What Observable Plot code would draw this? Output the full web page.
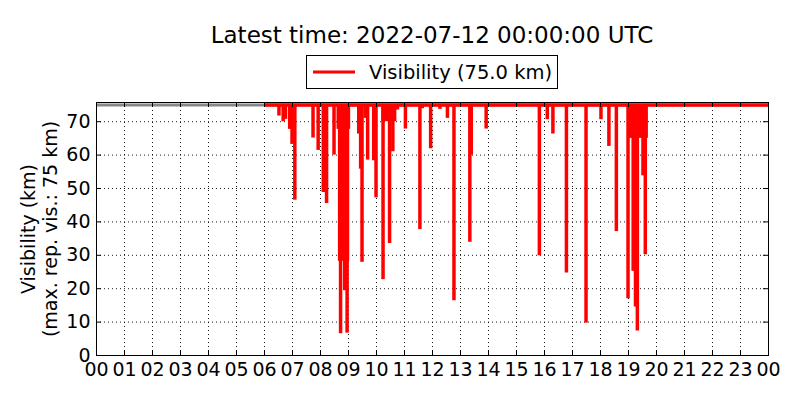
<!DOCTYPE html>
<html>
<head>
<meta charset="utf-8">
<script src="https://cdn.jsdelivr.net/npm/d3@7"></script>
<script src="https://cdn.jsdelivr.net/npm/@observablehq/plot@0.6"></script>
<style>
  body { margin: 0; background: white; font-family: "DejaVu Sans", sans-serif; }
  #wrap { width: 800px; }
  #head { position: relative; height: 92px; }
  #title { position: absolute; left: 96px; width: 672px; top: 21px; text-align: center;
           font-size: 23px; line-height: 28px; color: black; }
  #legend { position: absolute; left: 306px; top: 55px; width: 250px; height: 32px;
            border: 1px solid black; display: flex; align-items: center; font-size: 19.5px; }
  #legend svg { margin-left: 6px; margin-right: 14px; }
</style>
</head>
<body>
<div id="wrap">
  <div id="head">
    <div id="title">Latest time: 2022-07-12 00:00:00 UTC</div>
    <div id="legend"><svg width="42" height="6"><line x1="0" x2="42" y1="3" y2="3" stroke="red" stroke-width="3"/></svg><span>Visibility (75.0 km)</span></div>
  </div>
  <div id="chart"></div>
</div>
<script>
// Observation day (UTC) and the reported maximum visibility.
const day = "2022-07-11";
const maxVis = 75;
const seriesStart = "06:00";

// Single-reading drops in visibility (km).
const spikeTimes = [
  "06:31", "06:40", "06:45", "06:54", "06:59", "07:05", "07:44", "07:55",
  "08:06", "08:13", "08:29", "08:43", "08:52", "08:57", "09:22", "09:26",
  "09:29", "09:36", "09:41", "09:54", "09:59", "10:14", "10:28", "10:35",
  "10:45", "11:02", "11:33", "11:38", "11:56", "12:16", "12:32", "12:46",
  "13:20", "13:23", "13:55", "15:49", "16:06", "16:18", "16:47", "17:29",
  "18:01", "18:18", "18:34", "18:59", "19:10", "19:15", "19:19", "19:31",
  "19:36"
];
const spikeValues = [
  71.7, 70.0, 70.7, 67.7, 63.2, 46.5, 65.1, 61.4,
  48.8, 45.5, 60.0, 6.5, 19.4, 6.7, 66.3, 55.8,
  27.9, 71.0, 58.5, 58.3, 47.2, 22.7, 33.5, 61.0,
  73.5, 67.8, 37.7, 73.9, 61.9, 73.7, 71.0, 16.4,
  33.9, 60.0, 67.8, 29.9, 70.6, 66.3, 24.7, 9.7,
  70.6, 62.6, 37.1, 17.0, 25.2, 14.5, 7.3, 53.8,
  30.2
];

// Stretches of rapidly fluctuating readings that fill in solid.
const blockStarts = ["08:39", "08:42", "10:15", "19:04"];
const blockEnds   = ["09:01", "08:59", "10:40", "19:39"];
const blockValues = [68.0, 28.5, 70.3, 65.3];

const toDate = t => new Date(`${day}T${t}:00Z`);
const dayStart = toDate("00:00");
const dayEnd = new Date(+dayStart + 24 * 3600e3);

const spikes = spikeTimes.map((t, i) => ({time: toDate(t), value: spikeValues[i]}));
const blocks = blockStarts.map((t, i) => ({start: toDate(t), end: toDate(blockEnds[i]), value: blockValues[i]}));
const hourTicks = d3.utcHour.range(dayStart, new Date(+dayEnd + 1));
const visTicks = d3.range(0, 71, 10);

const W = 800, H = 308, mL = 96, mR = 32, mT = 10, mB = 45;
const frameW = W - mL - mR, frameH = H - mT - mB;
const red = "#ff0000";

const chart = Plot.plot({
  width: W,
  height: H,
  marginLeft: mL,
  marginRight: mR,
  marginTop: mT,
  marginBottom: mB,
  style: {fontFamily: "DejaVu Sans", fontSize: "19px", color: "black", background: "white", overflow: "visible"},
  x: {type: "utc", domain: [dayStart, dayEnd]},
  y: {domain: [0, 75.75]},
  marks: [
    // dotted grid
    Plot.gridX(hourTicks, {stroke: "black", strokeOpacity: 0.9, strokeDasharray: "1,3"}),
    Plot.gridY(visTicks, {stroke: "black", strokeOpacity: 0.9, strokeDasharray: "1,3"}),
    // max reportable visibility reference
    Plot.ruleY([maxVis], {stroke: "#888888", strokeWidth: 3}),
    // visibility series
    Plot.ruleY([maxVis], {x1: toDate(seriesStart), x2: dayEnd, stroke: red, strokeWidth: 3.5}),
    Plot.rect(blocks, {x1: "start", x2: "end", y1: "value", y2: maxVis, fill: red, insetLeft: -1.7, insetRight: -1.7, insetBottom: -1}),
    Plot.ruleX(spikes, {x: "time", y1: "value", y2: maxVis, stroke: red, strokeWidth: 3.5}),
    // inward ticks on all four sides
    Plot.tickX(hourTicks, {x: d => d, stroke: "black", insetBottom: frameH - 5}),
    Plot.tickX(hourTicks, {x: d => d, stroke: "black", insetTop: frameH - 5}),
    Plot.tickY(visTicks, {y: d => d, stroke: "black", insetRight: frameW - 5}),
    Plot.tickY(visTicks, {y: d => d, stroke: "black", insetLeft: frameW - 5}),
    Plot.frame({stroke: "black"}),
    Plot.axisX({ticks: hourTicks, tickFormat: d3.utcFormat("%H"), tickSize: 0, tickPadding: 7, label: null, fontSize: 19}),
    Plot.axisY({ticks: visTicks, tickSize: 0, tickPadding: 6, label: null, fontSize: 19}),
    // two-line y label
    Plot.text(["Visibility (km)"], {frameAnchor: "left", dx: -68, rotate: -90, textAnchor: "middle", text: d => d, fontSize: 19, fill: "black"}),
    Plot.text(["(max. rep. vis.: 75 km)"], {frameAnchor: "left", dx: -46, rotate: -90, textAnchor: "middle", text: d => d, fontSize: 19, fill: "black"})
  ]
});
document.getElementById("chart").appendChild(chart);
</script>
</body>
</html>
